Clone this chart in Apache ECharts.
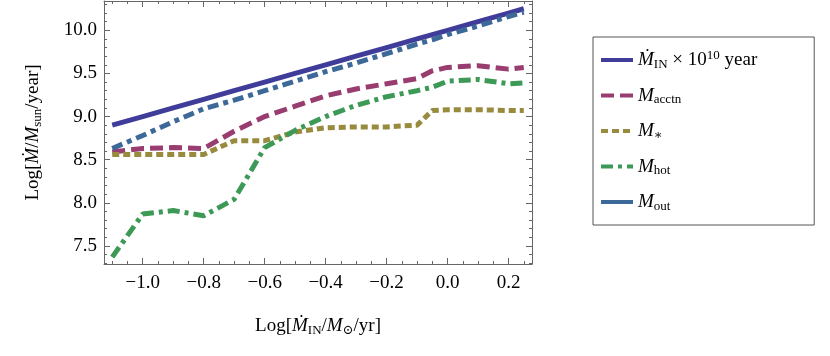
<!DOCTYPE html>
<html>
<head>
<meta charset="utf-8">
<script src="https://cdn.jsdelivr.net/npm/echarts@6/dist/echarts.min.js"></script>
<style>
  html, body { margin: 0; padding: 0; background: #fff; }
  #chart { width: 830px; height: 356px; }
</style>
</head>
<body>
<div id="chart"></div>
<script>
// x samples, log of inflow rate
let xVals = [-1.1, -1.0, -0.9, -0.8, -0.7, -0.6, -0.5, -0.4, -0.3, -0.2, -0.1, -0.05, 0.0, 0.1, 0.2, 0.25];
// series values
let mInVals    = [8.90, 9.00, 9.10, 9.20, 9.30, 9.40, 9.50, 9.60, 9.70, 9.80, 9.90, 9.95, 10.00, 10.10, 10.20, 10.25];
let mAcctnVals = [8.59, 8.63, 8.64, 8.63, 8.83, 9.00, 9.12, 9.24, 9.32, 9.38, 9.44, 9.53, 9.57, 9.59, 9.55, 9.57];
let mStarVals  = [8.56, 8.56, 8.56, 8.56, 8.72, 8.72, 8.82, 8.87, 8.88, 8.88, 8.90, 9.07, 9.08, 9.08, 9.07, 9.07];
let mHotVals   = [7.37, 7.87, 7.91, 7.85, 8.04, 8.64, 8.84, 9.00, 9.13, 9.23, 9.30, 9.34, 9.41, 9.43, 9.38, 9.39];
let mOutVals   = [8.63, 8.78, 8.94, 9.09, 9.19, 9.30, 9.41, 9.52, 9.62, 9.73, 9.84, 9.89, 9.95, 10.05, 10.16, 10.21];

// tick positions
let xMajor = [-1.0, -0.8, -0.6, -0.4, -0.2, 0.0, 0.2];
let xMinor = [-1.1, -1.05, -0.95, -0.9, -0.85, -0.75, -0.7, -0.65, -0.55, -0.5, -0.45, -0.35, -0.3, -0.25,
              -0.15, -0.1, -0.05, 0.05, 0.1, 0.15, 0.25];
let yMajor = [7.5, 8.0, 8.5, 9.0, 9.5, 10.0];
let yMinor = [7.3, 7.4, 7.6, 7.7, 7.8, 7.9, 8.1, 8.2, 8.3, 8.4, 8.6, 8.7, 8.8, 8.9, 9.1, 9.2, 9.3, 9.4,
              9.6, 9.7, 9.8, 9.9, 10.1, 10.2, 10.3];

let font = "'Liberation Serif', 'DejaVu Serif', serif";
let frameColor = '#666';

let rich = {
    i: { fontStyle: 'italic', fontSize: 19, fontFamily: font, color: '#000', lineHeight: 22 },
    t: { fontSize: 19, fontFamily: font, color: '#000', lineHeight: 22 },
    sub: { fontSize: 13, fontFamily: font, color: '#000', lineHeight: 12, verticalAlign: 'bottom' },
    sup: { fontSize: 13, fontFamily: font, color: '#000', lineHeight: 12, verticalAlign: 'top' }
};

let legendText = {
    'in': '{i|Ṁ}{sub|IN}{t| × 10}{sup|10}{t| year}',
    'acctn': '{i|M}{sub|acctn}',
    'star': '{i|M}{sub|∗}',
    'hot': '{i|M}{sub|hot}',
    'out': '{i|M}{sub|out}'
};

function pairs(ys) {
    return xVals.map(function (x, i) { return [x, ys[i]]; });
}

function minus(v) {
    return v.toFixed(1).replace('-', '\u2212');
}

function frameAxis(pos, vals, len, isMain, min, max) {
    return {
        type: 'value', position: pos, min: min, max: max,
        axisLine: { show: isMain, onZero: false, lineStyle: { color: frameColor, width: 1 } },
        axisTick: { show: true, inside: true, length: len, customValues: vals, lineStyle: { color: frameColor } },
        axisLabel: { show: false },
        splitLine: { show: false }
    };
}

let chart = echarts.init(document.getElementById('chart'));

let xMin = -1.127, xMax = 0.277, yMin = 7.29, yMax = 10.34;

let xBottom = frameAxis('bottom', xMajor, 6, true, xMin, xMax);
xBottom.axisLabel = {
    show: true, customValues: xMajor, margin: 10, fontSize: 19, fontFamily: font, color: '#000',
    formatter: minus
};
xBottom.name = 'Log[{i|Ṁ}{sub|IN}{t|/}{i|M}{sub|⊙}{t|/yr]}';
xBottom.nameLocation = 'middle';
xBottom.nameGap = 51;
xBottom.nameTextStyle = { fontSize: 19, fontFamily: font, color: '#000', rich: rich };

let yLeft = frameAxis('left', yMajor, 6, true, yMin, yMax);
yLeft.axisLabel = {
    show: true, customValues: yMajor, margin: 7, fontSize: 19, fontFamily: font, color: '#000',
    formatter: function (v) { return v.toFixed(1); }
};
yLeft.name = 'Log[{i|Ṁ}{t|/}{i|M}{sub|sun}{t|/year]}';
yLeft.nameLocation = 'middle';
yLeft.nameGap = 60;
yLeft.nameTextStyle = { fontSize: 19, fontFamily: font, color: '#000', rich: rich };

function lineSeries(name, ys, color, type, z) {
    return {
        name: name, type: 'line', data: pairs(ys), symbol: 'none', z: z,
        xAxisIndex: 0, yAxisIndex: 0,
        lineStyle: { color: color, width: 5, type: type, cap: 'butt' },
        itemStyle: { color: color }
    };
}

let option = {
    animation: false,
    backgroundColor: '#fff',
    grid: { left: 104, right: 298, top: 1, bottom: 92 },
    xAxis: [
        xBottom,
        frameAxis('bottom', xMinor, 3, false, xMin, xMax),
        frameAxis('top', xMajor, 6, true, xMin, xMax),
        frameAxis('top', xMinor, 3, false, xMin, xMax)
    ],
    yAxis: [
        yLeft,
        frameAxis('left', yMinor, 3, false, yMin, yMax),
        frameAxis('right', yMajor, 6, true, yMin, yMax),
        frameAxis('right', yMinor, 3, false, yMin, yMax)
    ],
    legend: {
        orient: 'vertical', left: 593, top: 37,
        borderColor: '#555', borderWidth: 1,
        padding: [12, 57, 12, 6],
        itemWidth: 32, itemHeight: 14, itemGap: 15,
        itemStyle: { opacity: 0 },
        lineStyle: { width: 4 },
        data: [
            { name: 'in' }, { name: 'acctn' }, { name: 'star' }, { name: 'hot' },
            { name: 'out', lineStyle: { type: 'solid' } }
        ],
        formatter: function (name) { return legendText[name]; },
        textStyle: { fontSize: 19, fontFamily: font, color: '#000', rich: rich }
    },
    series: [
        lineSeries('in', mInVals, '#3f3d99', 'solid', 2),
        lineSeries('acctn', mAcctnVals, '#993d71', [13, 6], 3),
        lineSeries('star', mStarVals, '#998b3d', [7, 4], 3),
        lineSeries('hot', mHotVals, '#3d9956', [12, 5, 4, 5], 3),
        lineSeries('out', mOutVals, '#3d6999', [11, 5, 5, 5], 4)
    ]
};

chart.setOption(option);
</script>
</body>
</html>
